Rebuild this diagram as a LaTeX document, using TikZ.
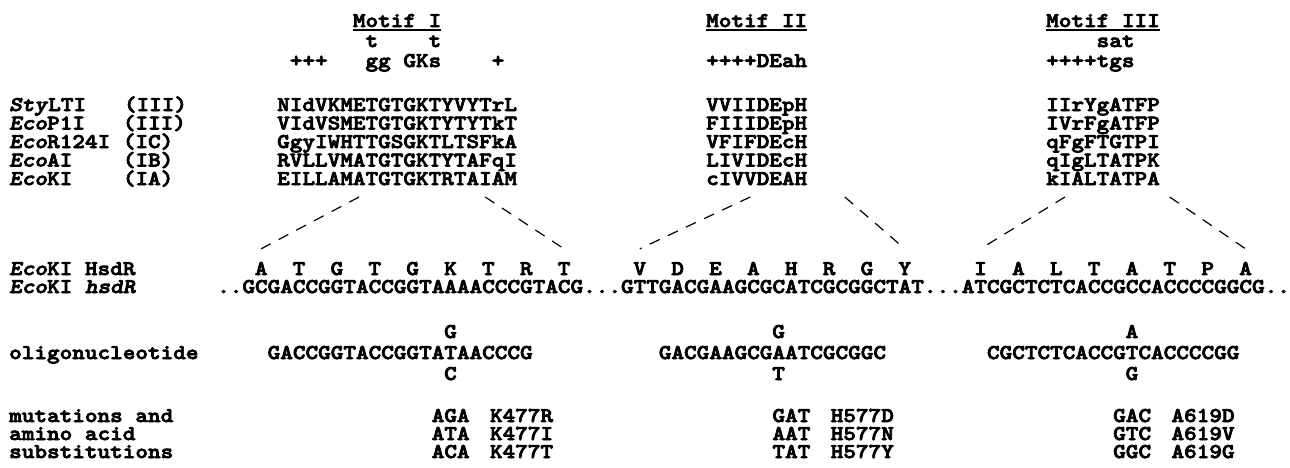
\documentclass[tikz,border=0pt]{standalone}
\usepackage{fontspec}
\newfontfamily\figfont{lmmonolt10-bold.otf}[ItalicFont=lmmonolt10-boldoblique.otf,FakeStretch=1.1447,FakeBold=3.5]
\usetikzlibrary{positioning}
% column grid of the typed sequences
\newcommand{\chw}{12.62}
\newcommand{\mone}{277}
\newcommand{\mtwo}{706}
\newcommand{\mthree}{1046}
\newcommand{\dna}{217}
\tikzset{
  txt/.style={anchor=base west,inner sep=0pt,text height=13pt,text depth=2.5pt,
    font=\figfont\fontsize{21}{21}\selectfont},
  aa/.style={txt,anchor=base},
  fan/.style={dash pattern=on 11pt off 9pt,line width=1.2pt},
  uline/.style={line width=1.8pt}
}
\begin{document}
\begin{tikzpicture}[x=1pt,y=-1pt]
\fill[white] (0,0) rectangle (1290,467);
\useasboundingbox (0,0) rectangle (1290,467);
% motif headers and consensus
\node[txt] (h1) at (\mone+6*\chw,27) {Motif~I};
\node[txt] (h2) at (\mtwo,27) {Motif~II};
\node[txt] (h3) at (\mthree,27) {Motif~III};
\foreach \h in {h1,h2,h3}
  \draw[uline] ([yshift=-3pt]\h.base west) -- ([yshift=-3pt]\h.base east);
\node[txt] (t1) at (\mone+7*\chw,47) {t~~~~t};
\node[txt] (c1) at (\mone+1*\chw,67) {+++~~~gg~GKs~~~~+};
\node[txt] (c2) at (\mtwo,67) {++++DEah};
\node[txt] (t3) at (\mthree+4*\chw,47) {sat};
\node[txt] (c3) at (\mthree,67) {++++tgs};
% enzymes
\node[txt] (lab1) at (9,111) {\textit{Sty}LTI~~~(III)};
\node[txt] (lab2) at (9,129.5) {\textit{Eco}P1I~~~(III)};
\node[txt] (lab3) at (9,148) {\textit{Eco}R124I~(IC)};
\node[txt] (lab4) at (9,166.5) {\textit{Eco}AI~~~~(IB)};
\node[txt] (lab5) at (9,185) {\textit{Eco}KI~~~~(IA)};
\foreach \sa/\sb/\sc/\yy [count=\i] in {NIdVKMETGTGKTYVYTrL/VVIIDEpH/IIrYgATFP/111,
    VIdVSMETGTGKTYTYTkT/FIIIDEpH/IVrFgATFP/129.5,
    GgyIWHTTGSGKTLTSFkA/VFIFDEcH/qFgFTGTPI/148,
    RVLLVMATGTGKTYTAFqI/LIVIDEcH/qIgLTATPK/166.5,
    EILLAMATGTGKTRTAIAM/cIVVDEAH/kIALTATPA/185}{
  \node[txt] (sI\i) at (\mone,\yy) {\sa};
  \node[txt] (sII\i) at (\mtwo,\yy) {\sb};
  \node[txt] (sIII\i) at (\mthree,\yy) {\sc};
}
% EcoKI protein and gene
\node[txt] (labp) at (9,275) {\textit{Eco}KI HsdR};
\node[txt] (labg) at (9,293) {\textit{Eco}KI \textit{hsdR}};
\node[txt] (dna) at (\dna,293) {..GCGACCGGTACCGGTAAAACCCGTACG...GTTGACGAAGCGCATCGCGGCTAT...ATCGCTCTCACCGCCACCCCGGCG..};
\foreach \a [count=\k from 0] in {A,T,G,T,G,K,T,R,T}
  \node[aa] (pI\k) at (\dna+3.5*\chw+3*\k*\chw,275) {\a};
\foreach \a [count=\k from 0] in {V,D,E,A,H,R,G,Y}
  \node[aa] (pII\k) at (\dna+33.5*\chw+3*\k*\chw,275) {\a};
\foreach \a [count=\k from 0] in {I,A,L,T,A,T,P,A}
  \node[aa] (pIII\k) at (\dna+60.5*\chw+3*\k*\chw,275) {\a};
% fans from the EcoKI motifs
\coordinate (fI1) at (\mone+6.5*\chw,197);
\coordinate (fI2) at (\mone+16.5*\chw,197);
\coordinate (fII1) at (\mtwo+3.5*\chw,197);
\coordinate (fII2) at (\mtwo+11*\chw,197);
\coordinate (fIII1) at (\mthree+1.5*\chw,197);
\coordinate (fIII2) at (\mthree+9.8*\chw,197);
\draw[fan] (fI1) -- ([yshift=13pt]pI0.north);
\draw[fan] (fI2) -- ([yshift=13pt]pI8.north);
\draw[fan] (fII1) -- ([yshift=13pt]pII0.north);
\draw[fan] (fII2) -- ([yshift=13pt]pII7.north);
\draw[fan] (fIII1) -- ([yshift=13pt]pIII0.north);
\draw[fan] (fIII2) -- ([yshift=13pt]pIII7.north);
% mutagenic oligonucleotides
\node[txt] (olab) at (9,359) {oligonucleotide};
\node[txt] (oI) at (\dna+4*\chw,359) {GACCGGTACCGGTATAACCCG};
\node[aa] (vIa) at (\dna+18.5*\chw,338) {G};
\node[aa] (vIb) at (\dna+18.5*\chw,380) {C};
\node[txt] (oII) at (\dna+35*\chw,359) {GACGAAGCGAATCGCGGC};
\node[aa] (vIIa) at (\dna+44.5*\chw,338) {G};
\node[aa] (vIIb) at (\dna+44.5*\chw,380) {T};
\node[txt] (oIII) at (\dna+61*\chw,359) {CGCTCTCACCGTCACCCCGG};
\node[aa] (vIIIa) at (\dna+72.5*\chw,338) {A};
\node[aa] (vIIIb) at (\dna+72.5*\chw,380) {G};
% mutations
\node[txt] (mlab1) at (9,422) {mutations and};
\node[txt] (mlab2) at (9,440) {amino acid};
\node[txt] (mlab3) at (9,458) {substitutions};
\foreach \ca/\na/\cb/\nb/\cc/\nc/\yy [count=\i] in {AGA/K477R/GAT/H577D/GAC/A619D/422,
    ATA/K477I/AAT/H577N/GTC/A619V/440,
    ACA/K477T/TAT/H577Y/GGC/A619G/458}{
  \node[txt] (kI\i) at (\dna+17*\chw,\yy) {\ca};
  \node[txt,base right=20pt of kI\i] (nI\i) {\na};
  \node[txt] (kII\i) at (\dna+44*\chw,\yy) {\cb};
  \node[txt,base right=20pt of kII\i] (nII\i) {\nb};
  \node[txt] (kIII\i) at (\dna+71*\chw,\yy) {\cc};
  \node[txt,base right=20pt of kIII\i] (nIII\i) {\nc};
}
\end{tikzpicture}
\end{document}
